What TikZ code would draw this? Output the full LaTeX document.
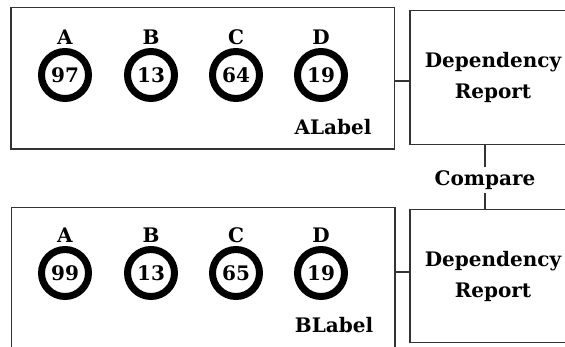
\documentclass[tikz,border=0pt]{standalone}
\usepackage{fontspec}
\setmainfont{DejaVu Serif}
\usetikzlibrary{positioning}

\tikzset{
  panel/.style={draw=black!80,line width=1.2pt,minimum width=383.5pt,minimum height=141.7pt,inner sep=0pt},
  report/.style={draw=black!80,line width=1.2pt,minimum width=166pt,minimum height=133.6pt,align=center,inner sep=0pt},
  ring/.style={circle,draw,line width=7pt,minimum size=47pt,inner sep=0pt,label distance=-2pt},
  wire/.style={draw=black!80,line width=1.2pt}
}

\begin{document}
\begin{tikzpicture}[x=1pt,y=-1pt,font=\fontsize{20}{31}\selectfont\bfseries]
    \useasboundingbox (0,0) rectangle (565,346);
    \clip (0,0) rectangle (565,346);
    %% Panel A with its report
    \node[panel] (panelA) at (202.75,78.15) {};
    \node[report] (repA) at (493,77.5) {Dependency\\Report};
    \node[anchor=base] (labA) at (333,134) {ALabel};
    \foreach \name/\x/\val in {A/65/97,B/151/13,C/236/64,D/321/19}
        \node[ring,label={above:\name}] (a\name) at (\x,75) {\val};
    %% Panel B with its report
    \node[panel] (panelB) at (203.25,278) {};
    \node[report] (repB) at (493,276) {Dependency\\Report};
    \node[anchor=base] (labB) at (334,332) {BLabel};
    \foreach \name/\x/\val in {A/65/99,B/151/13,C/236/65,D/321/19}
        \node[ring,label={above:\name}] (b\name) at (\x,273) {\val};
    %% Wires
    \draw[wire] (panelA.east |- 0,81) -- (repA.west |- 0,81);
    \draw[wire] (panelB.east |- 0,272) -- (repB.west |- 0,272);
    \node[anchor=base] (cmp) at (485,185) {Compare};
    \draw[wire] (cmp.north |- repA.south) -- (cmp.north);
    \draw[wire] (cmp.south) -- (cmp.south |- repB.north);
\end{tikzpicture}
\end{document}
